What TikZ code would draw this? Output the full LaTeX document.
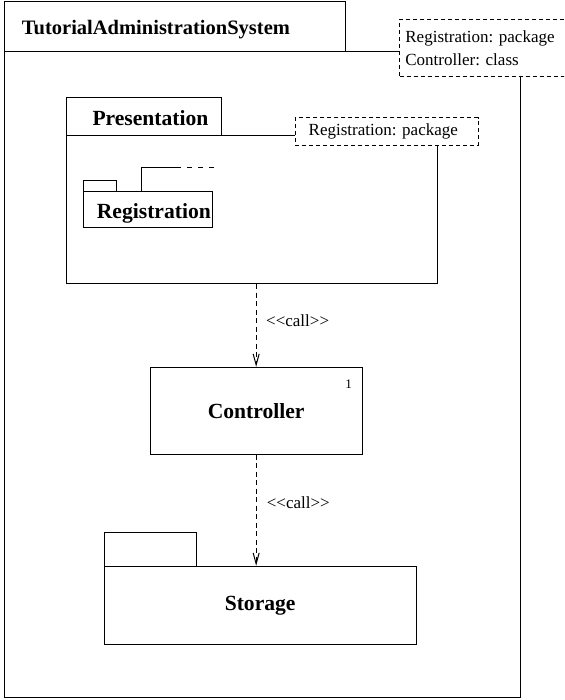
\documentclass[tikz,border=0pt]{standalone}
\usepackage{fontspec}
\setmainfont{Liberation Serif}
\usetikzlibrary{arrows.meta}
\frenchspacing

\begin{document}
\begin{tikzpicture}[x=1pt, y=-1pt,
    pkg/.style={draw, line width=1pt},
    pkgname/.style={font=\fontsize{21.6}{26}\selectfont\bfseries, inner sep=0pt, anchor=base west},
    notebox/.style={draw, line width=0.8pt, dash pattern=on 4pt off 3pt, fill=white,
        font=\fontsize{17}{22.7}\selectfont, align=left, inner xsep=5.7pt, anchor=north west},
    callarrow/.style={draw, line width=1pt, dash pattern=on 5pt off 3.5pt,
        -{Straight Barb[length=11pt, width=6pt]}},
    stereo/.style={font=\fontsize{17}{20}\selectfont, inner sep=0pt, anchor=base west}]
    \useasboundingbox (0,0) rectangle (564,700);
    \clip (0,0) rectangle (564,700);
    \node[pkg, minimum width=515.3pt, minimum height=645.3pt] (tasbody) at (262.35,374.35) {};
    \draw[pkg] (4.7,1.7) rectangle (345.3,51.7);
    \node[pkgname, font=\fontsize{20.5}{25}\selectfont\bfseries] (tastitle) at (21.7,35) {TutorialAdministrationSystem};
    \node[notebox, text width=161.3pt, minimum height=57pt] (tasnote) at (399.3,19)
        {Registration: package\\Controller: class};
    \node[pkg, minimum width=371pt, minimum height=147.8pt] (pres) at (252.2,209.6) {};
    \draw[pkg] (66.7,97.3) rectangle (221,135.7);
    \node[pkgname] (prestitle) at (92.3,126) {Presentation};
    \node[notebox, text width=156pt, minimum height=27.7pt, inner xsep=13.3pt, align=left] (presnote) at (295,117.3)
        {Registration: package};
    \draw[pkg] (83.3,181) rectangle (116.7,191.7);
    \draw[pkg] (83.3,191.7) rectangle (212.7,227.3);
    \node[pkgname] (regtitle) at (96.7,218.3) {Registration};
    \draw[pkg] (141.7,191.7) |- (176,167.3);
    \draw[pkg, dash pattern=on 5pt off 6pt] (176,167.3) -- (216.7,167.3);
    \node[pkg, minimum width=212.3pt, minimum height=86.7pt,
        font=\fontsize{21.6}{26}\selectfont\bfseries] (ctrl) at (256.15,410.65) {Controller};
    \node[font=\fontsize{13}{15}\selectfont, inner sep=0pt] (mult) at (348.7,384) {1};
    \draw[pkg] (104.3,532.7) rectangle (196,566.3);
    \node[pkg, minimum width=311.7pt, minimum height=78.4pt,
        font=\fontsize{21.6}{26}\selectfont\bfseries] (storage) at (260.15,605.5) {Storage};
    \draw[callarrow] (pres.south -| ctrl.north) -- (ctrl.north);
    \draw[callarrow] (ctrl.south) -- (ctrl.south |- storage.north);
    \node[stereo] (call1) at (266,326.7) {<\kern0pt<call>\kern0pt>};
    \node[stereo] (call2) at (266.7,508.3) {<\kern0pt<call>\kern0pt>};
\end{tikzpicture}
\end{document}
